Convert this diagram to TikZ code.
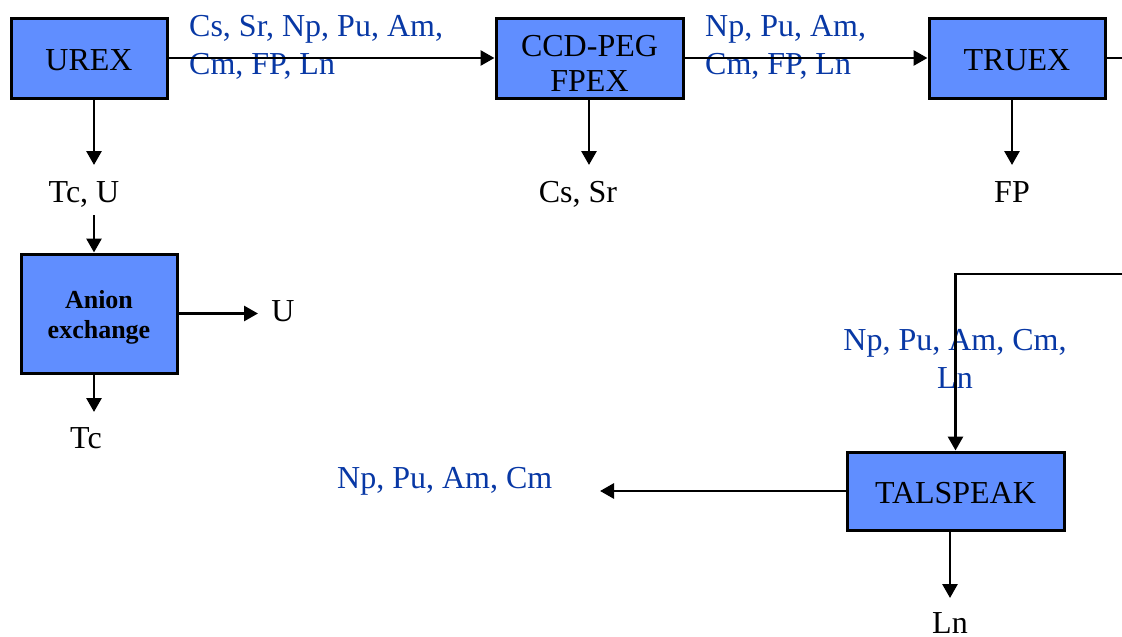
\documentclass[tikz,border=0pt]{standalone}
\usepackage{fontspec}
\setmainfont{Liberation Serif}
\usetikzlibrary{arrows.meta}
\definecolor{boxblue}{RGB}{96,142,255}
\definecolor{labblue}{RGB}{8,56,165}
\tikzset{
  proc/.style={draw=black, line width=3pt, fill=boxblue, inner sep=0pt, align=center,
    font=\fontsize{32}{35}\selectfont, text height=24pt, text depth=0pt},
  lab/.style={inner sep=0pt, font=\fontsize{32}{38}\selectfont, text=black},
  blab/.style={inner sep=0pt, font=\fontsize{32}{38}\selectfont, text=labblue},
  arr/.style={line width=2.8pt, -{Triangle[length=14pt,width=15pt]}},
  ln/.style={line width=2.8pt}
}
\begin{document}
\begin{tikzpicture}[x=1pt,y=-1pt]
\useasboundingbox (0,0) rectangle (1122,637);
% process boxes
\node[proc, minimum width=156pt, minimum height=80pt] (urex) at (89,58) {UREX};
\node[proc, minimum width=187pt, minimum height=80pt, text height=66pt] (ccd) at (589.5,58) {CCD-PEG\\FPEX};
\node[proc, minimum width=176pt, minimum height=80pt] (truex) at (1017,58) {TRUEX};
\node[proc, minimum width=156pt, minimum height=119pt, text height=49pt, font=\fontsize{26}{30}\selectfont\bfseries] (anion) at (99,313.5) {Anion\\exchange};
\node[proc, minimum width=217pt, minimum height=78pt] (tal) at (955.5,491) {TALSPEAK};
% stream labels
\node[blab, align=left, anchor=north west] (l1) at (189,15) {Cs, Sr, Np, Pu, Am,\\Cm, FP, Ln};
\node[blab, align=left, anchor=north west] (l2) at (705,15) {Np, Pu, Am,\\Cm, FP, Ln};
\node[blab, align=center, anchor=north] (l3) at (955,329) {Np, Pu, Am, Cm,\\Ln};
\node[blab, anchor=base west] (l4) at (337,488) {Np, Pu, Am, Cm};
\node[lab, anchor=base] (tcu) at (84,202) {Tc, U};
\node[lab, anchor=base] (cssr) at (578,202) {Cs, Sr};
\node[lab, anchor=base] (fp) at (1012,202) {FP};
\node[lab, anchor=base] (u) at (283,321) {U};
\node[lab, anchor=base] (tc) at (86,448) {Tc};
\node[lab, anchor=base] (ln) at (950,633) {Ln};
% connector end points
\coordinate (a1) at (94,165);
\coordinate (a2) at (94,215);
\coordinate (a3) at (258,313);
\coordinate (a4) at (94,412);
\coordinate (a5) at (589,165);
\coordinate (a6) at (1012,165);
\coordinate (e1) at (1122,58);
\coordinate (c1) at (1122,274);
\coordinate (c2) at (955.5,274);
\coordinate (a7) at (600,491);
\coordinate (a8) at (950,598);
% connectors
\draw[arr] (urex.east) -- (ccd.west);
\draw[arr] (ccd.east) -- (truex.west);
\draw[ln] (truex.east) -- (e1);
\draw[arr] (urex.south -| a1) -- (a1);
\draw[arr] (a2) -- (a2 |- anion.north);
\draw[arr] (anion.east) -- (anion.east -| a3);
\draw[arr] (anion.south -| a4) -- (a4);
\draw[arr] (ccd.south -| a5) -- (a5);
\draw[arr] (truex.south -| a6) -- (a6);
\draw[arr] (c1) -- (c2) -- (tal.north);
\draw[arr] (tal.west) -- (a7);
\draw[arr] (tal.south -| a8) -- (a8);
\end{tikzpicture}
\end{document}
